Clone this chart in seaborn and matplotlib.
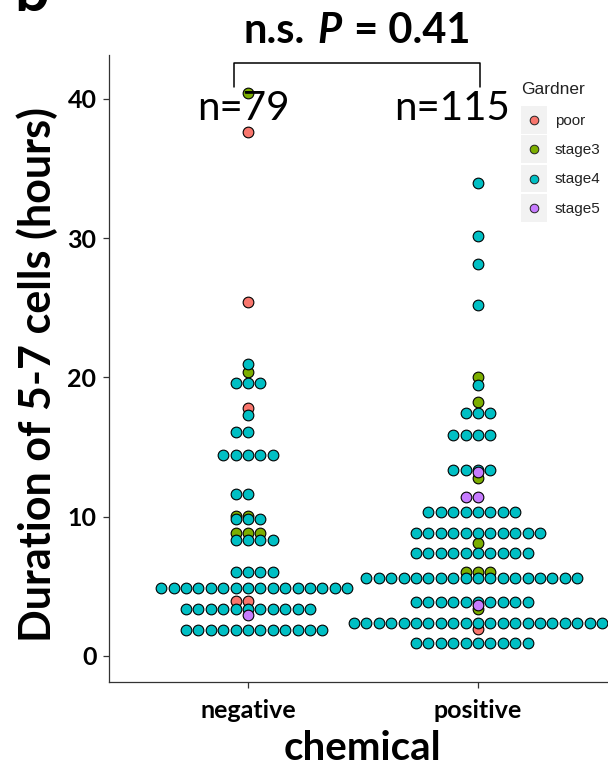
import numpy as np
import pandas as pd
import matplotlib
matplotlib.use('Agg')
import matplotlib.pyplot as plt
import seaborn as sns
from matplotlib.lines import Line2D
from matplotlib.patches import Rectangle
from matplotlib.legend_handler import HandlerBase
from matplotlib.offsetbox import TextArea, HPacker, AnchoredOffsetbox

# ============================================
# DATA
# ============================================
groups = ['negative', 'positive']
group_pos = [0.0, 0.5]          # numeric positions so each swarm gets room
levels = ['poor', 'stage3', 'stage4', 'stage5']
level_colors = ['#F8766D', '#7CAE00', '#00BFC4', '#C77CFF']
n_labels = ['n=79', 'n=115']
p_value = '0.41'

# hours value of each row of dots, and how many dots sit on it
neg_poor_vals = [3.95, 17.8, 25.4, 37.6]
neg_poor_counts = [2, 1, 1, 1]
neg_stage3_vals = [8.8, 10.05, 20.4, 40.4]
neg_stage3_counts = [3, 2, 1, 1]
neg_stage4_vals = [1.87, 3.38, 4.85, 6.05, 8.33, 9.86, 11.63, 14.43, 16.09, 17.3, 19.6, 21.0]
neg_stage4_counts = [12, 11, 16, 4, 4, 3, 2, 5, 2, 1, 3, 1]
neg_stage5_vals = [2.94]
neg_stage5_counts = [1]

pos_poor_vals = [1.91]
pos_poor_counts = [1]
pos_stage3_vals = [3.35, 6.05, 8.09, 12.76, 18.26, 20.04]
pos_stage3_counts = [1, 3, 1, 1, 1, 1]
pos_stage4_vals = [0.91, 2.39, 3.9, 5.62, 7.42, 8.86, 10.37, 13.36, 15.87, 17.43, 19.46,
                   25.2, 28.15, 30.16, 33.97]
pos_stage4_counts = [10, 21, 10, 18, 10, 11, 8, 4, 4, 3, 1, 1, 1, 1, 1]
pos_stage5_vals = [3.66, 11.4, 13.24]
pos_stage5_counts = [1, 2, 1]

table = {
    ('negative', 'poor'): (neg_poor_vals, neg_poor_counts),
    ('negative', 'stage3'): (neg_stage3_vals, neg_stage3_counts),
    ('negative', 'stage4'): (neg_stage4_vals, neg_stage4_counts),
    ('negative', 'stage5'): (neg_stage5_vals, neg_stage5_counts),
    ('positive', 'poor'): (pos_poor_vals, pos_poor_counts),
    ('positive', 'stage3'): (pos_stage3_vals, pos_stage3_counts),
    ('positive', 'stage4'): (pos_stage4_vals, pos_stage4_counts),
    ('positive', 'stage5'): (pos_stage5_vals, pos_stage5_counts),
}

rows = []
for (grp, lvl), (vals, counts) in table.items():
    for v in np.repeat(vals, counts):
        rows.append({'chemical': grp, 'Gardner': lvl, 'hours': v})
df = pd.DataFrame(rows)
df['xpos'] = df['chemical'].map(dict(zip(groups, group_pos)))

# ============================================
# STYLE
# ============================================
sns.set_theme(style='ticks')
plt.rcParams['font.family'] = ['Lato', 'DejaVu Sans']
plt.rcParams['axes.edgecolor'] = '#333333'
plt.rcParams['axes.linewidth'] = 0.9
plt.rcParams['text.color'] = 'black'
plt.rcParams['xtick.labelcolor'] = 'black'
plt.rcParams['ytick.labelcolor'] = 'black'

fig = plt.figure(figsize=(6.08, 7.67), dpi=100)
ax = fig.add_axes([109 / 608, 85 / 767, 499 / 608, 627 / 767])

# one swarm per level and group, drawn in level order (later ones on top)
for lvl, col in zip(levels, level_colors):
    for grp in groups:
        sub = df[(df['chemical'] == grp) & (df['Gardner'] == lvl)]
        if len(sub) == 0:
            continue
        sns.swarmplot(data=sub, x='xpos', y='hours', native_scale=True, orient='x',
                      color=col, size=7.7, edgecolor='black', linewidth=0.8, ax=ax)

ax.set_xlim(-0.302, 0.7826)
ax.set_ylim(-1.87, 43.16)
ax.set_xticks(group_pos)
ax.set_xticklabels(groups)
ax.set_yticks([0, 10, 20, 30, 40])
ax.set_xlabel('')
ax.set_ylabel('')
ax.tick_params(axis='both', length=4, width=0.9, color='#333333', labelsize=18)
ax.tick_params(axis='x', pad=8)
ax.tick_params(axis='y', pad=5)
for lab in ax.get_xticklabels() + ax.get_yticklabels():
    lab.set_fontweight('bold')
sns.despine(ax=ax)

# axis titles
fig.text(37 / 608, 1 - 375 / 767, 'Duration of 5-7 cells (hours)', rotation=90,
         ha='center', va='center', fontsize=31, fontweight='bold')
fig.text(362 / 608, 1 - 748 / 767, 'chemical', ha='center', va='center',
         fontsize=29, fontweight='bold')

# n labels
ax.text(-0.011, 39.35, n_labels[0], ha='center', va='center', fontsize=29)
ax.text(0.443, 39.35, n_labels[1], ha='center', va='center', fontsize=29)

# significance bracket
ax.plot([-0.03, -0.03, 0.505, 0.505], [40.86, 42.59, 42.59, 40.86],
        color='black', lw=1.1, clip_on=False)

# title: n.s. P = 0.41 with italic P
tprops = dict(fontsize=30, fontweight='bold', color='black')
parts = [TextArea('n.s.', textprops=tprops),
         TextArea('P', textprops=dict(tprops, style='italic')),
         TextArea('= ' + p_value, textprops=tprops)]
title_box = HPacker(children=parts, align='baseline', pad=0, sep=9)
fig.add_artist(AnchoredOffsetbox(loc='center', child=title_box, frameon=False, pad=0,
                                 borderpad=0, bbox_to_anchor=(357 / 608, 1 - 31 / 767),
                                 bbox_transform=fig.transFigure))

# clipped panel letter in the corner
fig.text(14 / 608, 1 - 11 / 767, 'b', fontsize=44, fontweight='bold', va='baseline')


# legend with grey key boxes like ggplot
class KeyHandler(HandlerBase):
    def create_artists(self, legend, orig_handle, xdescent, ydescent, width, height,
                       fontsize, trans):
        box = Rectangle((-xdescent, -ydescent), width, height, facecolor='#F2F2F2',
                        edgecolor='none', transform=trans)
        dot = Line2D([width / 2 - xdescent], [height / 2 - ydescent], marker='o',
                     markersize=6.2, markerfacecolor=orig_handle.get_markerfacecolor(),
                     markeredgecolor='#222222', markeredgewidth=0.7, linestyle='none',
                     transform=trans)
        return [box, dot]


handles = [Line2D([], [], marker='o', markerfacecolor=c, linestyle='none') for c in level_colors]
leg = ax.legend(handles, levels, title='Gardner', loc='upper left',
                bbox_to_anchor=(521 / 608, 1 - 82 / 767), bbox_transform=fig.transFigure,
                frameon=False, handler_map={Line2D: KeyHandler()},
                prop={'family': ['Liberation Sans', 'DejaVu Sans'], 'size': 11},
                title_fontproperties={'family': ['Liberation Sans', 'DejaVu Sans'], 'size': 12.5},
                handlelength=1.72, handleheight=2.42, labelspacing=0.1, handletextpad=0.5,
                borderpad=0, borderaxespad=0, alignment='left')
leg._legend_box.sep = 6.5   # a bit more room under the legend title
for t in leg.get_texts():
    t.set_color('#222222')
leg.get_title().set_color('#222222')

plt.savefig('out.png', dpi=100)
